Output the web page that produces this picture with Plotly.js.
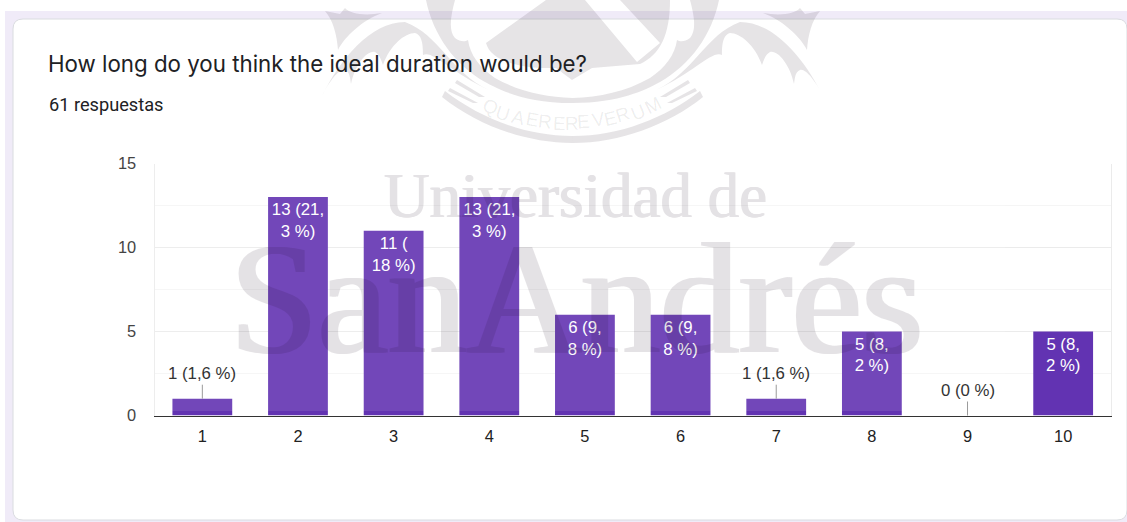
<!DOCTYPE html>
<html>
<head>
<meta charset="utf-8">
<script src="https://cdn.plot.ly/plotly-3.0.1.min.js"></script>
<style>html,body{margin:0;padding:0;background:#fff;overflow:hidden}</style>
</head>
<body>
<div id="chart" style="width:1127px;height:522px"></div>
<script>
// Survey results
const categories = ['1','2','3','4','5','6','7','8','9','10'];
const counts = [1,13,11,13,6,6,1,5,0,5];
const valueLabels = ['1 (1,6 %)','13 (21,<br>3 %)','11 (<br>18 %)','13 (21,<br>3 %)','6 (9,<br>8 %)','6 (9,<br>8 %)','1 (1,6 %)','5 (8,<br>2 %)','0 (0 %)','5 (8,<br>2 %)'];
const yTicks = [0,5,10,15];
const questionTitle = 'How long do you think the ideal duration would be?';
const responseCount = '61 respuestas';

const W = 1127, H = 522;
const BAR = '#6233b2', SANS = 'Liberation Sans, Arial, sans-serif';
const INK = 'rgba(25,5,30,0.11)', INK_SOLID = 'rgb(25,5,30)';
const LABEL_SIZE = 16.8, TICK_SIZE = 16.4;
const px = x => x / W, py = y => 1 - y / H;

// Converts a path written in page pixels into paper fractions
const toPaper = d => d.replace(/(-?[\d.]+),(-?[\d.]+)/g, (m, x, y) => px(+x).toFixed(5) + ',' + py(+y).toFixed(5));
const mirror = d => d.replace(/(-?[\d.]+),(-?[\d.]+)/g, (m, x, y) => (1145 - x) + ',' + y);
const pageShape = (d, fill, layer, line) => ({type:'path', xref:'paper', yref:'paper', path:toPaper(d), fillcolor:fill, layer, line: line || {width:0}});

// Card frame behind the plot
const frame = [
  pageShape('M5,11 L1127,11 L1127,522 L5,522 Z', '#f0ebf8', 'below'),
  pageShape('M23,19 L1117,19 Q1127,19 1127,29 L1127,510 Q1127,520 1117,520 L23,520 Q13,520 13,510 L13,29 Q13,19 23,19 Z', '#ffffff', 'below', {color:'#dadce0', width:1})
];

// University crest, half of it drawn and the other half reflected
const crestHalf = [
  'M572.5,143 C620,143 668,125 703,97 L700,91 C665,118 620,136 572.5,136 Z',
  'M660,97 L688,80 L690,83 L666,97 Z',
  'M667,103 L695,88 L697,91 L672,103 Z',
  'M572.5,103 C620,103 645,90 660,82 C690,65 712,35 719,0 L690,0 C694,15 697,30 690,38 C685,42 680,42 677,40 C675,55 665,68 650,78 C625,92 600,97 572.5,98 Z',
  'M656,90 C695,72 705,35 740,22 C775,22 805,60 823,96 C815,80 805,68 800,70 C795,72 795,78 794,84 C790,65 778,50 770,52 C765,55 764,60 762,65 C755,45 740,33 730,33 C722,35 722,48 722,55 C712,50 695,72 656,90 Z',
  'M763,13 C780,16 795,14 800,8 L805,14 L820,11 C812,20 808,35 807,50 C800,36 782,20 763,13 Z'
];
const crestCenter = 'M546,0 L486,43 C490,58 510,66 540,68 L556,68 L572,80 L592,68 L640,64 C660,55 670,35 670,0 L620,0 L660,43 L637,62 L585,0 Z';
const crestPaths = [crestCenter].concat(crestHalf, crestHalf.map(mirror));
const crest = crestPaths.map(d => pageShape(d, INK, 'above'));

// Pale sheet lying over most of the plot
const sheet = [pageShape('M150,150 L1005,150 L1005,411 L150,411 Z', 'rgba(255,255,255,0.1)', 'above')];

const mottoLetters = ['Q','U','A','E','R','E','R','E','V','E','R','U','M'];
const mottoX = [490,503,518,532,545,559,572,583,598,610,623,638,653];
const mottoY = [107,113,117,120,122,123,123,122,120,118,115,112,105];
const mottoAngle = [22,18,14,10,6,2,-1,-4,-9,-13,-17,-22,-27];
const motto = mottoLetters.map((t, i) => ({
  xref:'paper', yref:'paper', x:px(mottoX[i]), y:py(mottoY[i]), xanchor:'center', yanchor:'middle', text:t, showarrow:false, textangle:mottoAngle[i],
  font:{family:SANS, size:19, color:'rgba(0,0,0,0.075)'}
}));

// Wordmark strokes are thickened with a hard shadow, then faded as one group
const wordmark = [
  {text:'Universidad de', x:575, y:196, size:63, bold:0.7},
  {text:'SanAndrés', x:576, y:298, size:158, bold:2}
].map(w => ({
  xref:'paper', yref:'paper', x:px(w.x), y:py(w.y), text:w.text, showarrow:false, xanchor:'center', yanchor:'middle', opacity:0.11,
  font:{family:'Liberation Serif, serif', size:w.size, color:INK_SOLID,
    shadow:`${w.bold}px 0 0 ${INK_SOLID}, -${w.bold}px 0 0 ${INK_SOLID}`}
}));

// Values too short to hold a label get one above the bar with a leader
const outsideLabels = categories.map((c, i) => i).filter(i => counts[i] <= 1).map(i => ({
  x:i, y:counts[i], xref:'x', yref:'y', text:valueLabels[i], showarrow:true, arrowhead:0, arrowwidth:1,
  arrowcolor:'#9a9a9a', ax:0, ay:-25, font:{family:SANS, size:LABEL_SIZE, color:'#333333'}
}));

const subtitle = {xref:'paper', yref:'paper', x:px(47), y:py(104), xanchor:'left', yanchor:'middle', showarrow:false,
  text:responseCount, font:{family:'Roboto, sans-serif', size:18.2, color:'#202124'}};

const trace = {
  type:'bar', x:categories, y:counts,
  text:valueLabels.map((t, i) => counts[i] > 1 ? t : ''),
  textposition:'inside', insidetextanchor:'end', textangle:0, constraintext:'none',
  insidetextfont:{family:SANS, size:LABEL_SIZE, color:'#ffffff'},
  marker:{color:BAR, line:{width:0}}, hoverinfo:'skip'
};

const layout = {
  width:W, height:H, margin:{l:0,r:0,t:0,b:0}, paper_bgcolor:'#ffffff', plot_bgcolor:'rgba(0,0,0,0)',
  showlegend:false, bargap:0.375,
  title:{text:questionTitle, x:px(48), xanchor:'left', y:py(64), yanchor:'middle', font:{family:'Inter, sans-serif', size:22.3, color:'#202124'}},
  xaxis:{domain:[px(154.5),px(1111)], type:'category', range:[-0.5,9.5], showgrid:false, zeroline:false, showline:true, linecolor:'#333333', linewidth:1.5,
    ticks:'', ticklabelstandoff:5, tickfont:{family:SANS, size:TICK_SIZE, color:'#222222'}},
  yaxis:{domain:[py(415.5),py(163.5)], range:[0,15], tickvals:yTicks, gridcolor:'#ebebeb', gridwidth:1, zeroline:false,
    showline:true, mirror:true, linecolor:'#ebebeb', linewidth:1, ticks:'', ticklabelstandoff:14,
    tickfont:{family:SANS, size:TICK_SIZE, color:'#444444'},
    minor:{dtick:2.5, showgrid:true, gridcolor:'#f5f5f5', gridwidth:1, ticks:''}},
  shapes:[...frame, ...sheet, ...crest],
  annotations:[subtitle, ...outsideLabels, ...wordmark, ...motto]
};

Plotly.newPlot('chart', [trace], layout, {displayModeBar:false, staticPlot:true});
</script>
</body>
</html>
